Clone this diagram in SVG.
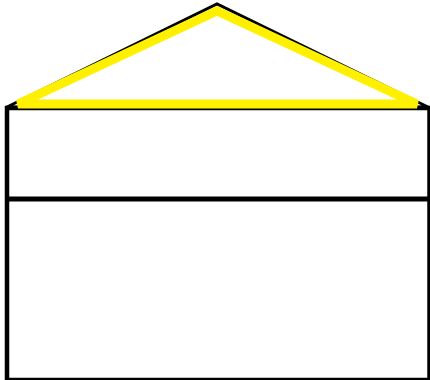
<svg xmlns="http://www.w3.org/2000/svg" width="430" height="380" viewBox="0 0 430 380">
  <style>
    .wall { fill: none; stroke: #000; stroke-width: 4.5; }
    .floor { stroke: #000; stroke-width: 5; }
    .roof-outline { fill: none; stroke: #000; stroke-width: 3; stroke-linejoin: miter; }
    .roof-inner { fill: none; stroke: #fff000; stroke-width: 9; stroke-linejoin: miter; }
  </style>
  <rect width="430" height="380" fill="#fff"/>
  <g id="house">
    <rect class="wall" x="7" y="108" width="422.5" height="272"/>
    <line class="floor" x1="7" y1="199" x2="430" y2="199"/>
  </g>
  <g id="roof">
    <polygon class="roof-outline" points="7,107 217,4 428,107"/>
    <polygon class="roof-inner" points="18,104 217,11 417,104"/>
  </g>
</svg>
